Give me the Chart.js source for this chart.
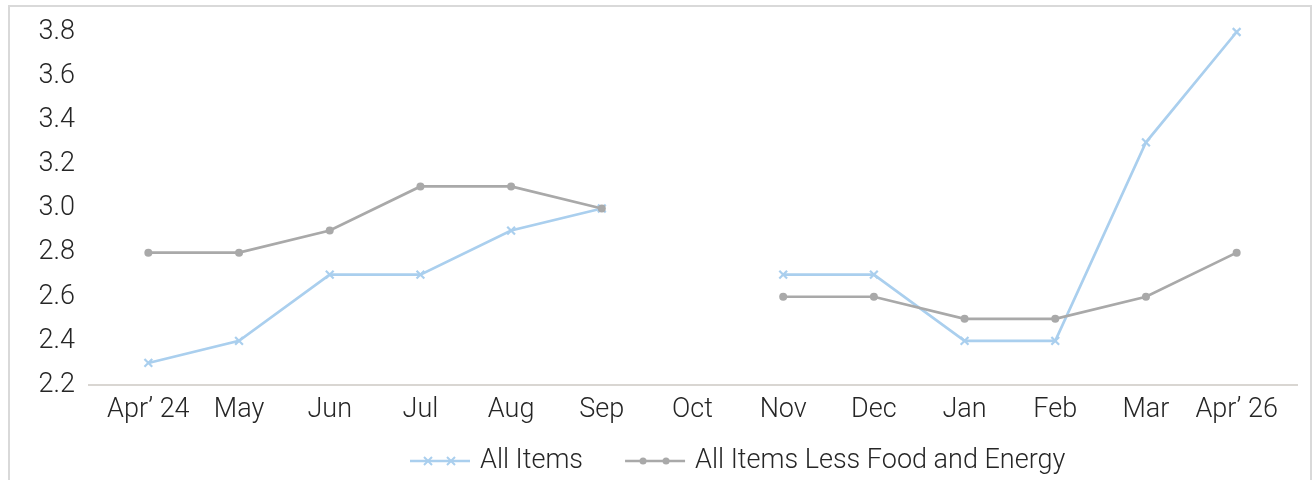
<!DOCTYPE html>
<html>
<head>
<meta charset="utf-8">
<script src="https://cdn.jsdelivr.net/npm/chart.js@4/dist/chart.umd.min.js"></script>
<style>
  html, body { margin: 0; padding: 0; background: #fff; }
  #wrap { position: absolute; left: 0; top: 0; width: 1314px; height: 480px; }
  #frame { position: absolute; left: 8px; top: 5px; width: 1300px; height: 480px;
           border: 2px solid #d9d9d9; border-bottom: none; pointer-events: none; }
</style>
</head>
<body>
<div id="wrap"><canvas id="myChart" width="1314" height="480"></canvas></div>
<div id="frame"></div>
<script>
const months = ['Apr\u2019 24', 'May', 'Jun', 'Jul', 'Aug', 'Sep', 'Oct', 'Nov', 'Dec', 'Jan', 'Feb', 'Mar', 'Apr\u2019 26'];
const allItems = [2.3, 2.4, 2.7, 2.7, 2.9, 3.0, null, 2.7, 2.7, 2.4, 2.4, 3.3, 3.8];
const coreItems = [2.8, 2.8, 2.9, 3.1, 3.1, 3.0, null, 2.6, 2.6, 2.5, 2.5, 2.6, 2.8];
const yTicks = [2.2, 2.4, 2.6, 2.8, 3.0, 3.2, 3.4, 3.6, 3.8];

const blue = '#aacfee';
const grey = '#a9a9a9';
const textColor = '#262626';
const fontFamily = 'Roboto, "Noto Sans", sans-serif';

// legend drawn by hand so the sample line can carry two markers like the original
const bottomLegend = {
  id: 'bottomLegend',
  afterDraw(chart) {
    const ctx = chart.ctx;
    const items = chart.data.datasets.map(ds => ({
      text: ds.label, color: ds.borderColor, style: ds.pointStyle
    }));
    ctx.save();
    ctx.font = '300 27px ' + fontFamily;
    ctx.textBaseline = 'middle';
    const y = 461;
    let x = 410;
    items.forEach(it => {
      ctx.strokeStyle = it.color;
      ctx.lineWidth = 2.5;
      ctx.beginPath();
      ctx.moveTo(x, y);
      ctx.lineTo(x + 60, y);
      ctx.stroke();
      [x + 18, x + 41].forEach(px => {
        if (it.style === 'crossRot') {
          ctx.lineWidth = 2;
          ctx.beginPath();
          ctx.moveTo(px - 4, y - 4); ctx.lineTo(px + 4, y + 4);
          ctx.moveTo(px + 4, y - 4); ctx.lineTo(px - 4, y + 4);
          ctx.stroke();
        } else {
          ctx.fillStyle = it.color;
          ctx.beginPath();
          ctx.arc(px, y, 3.5, 0, Math.PI * 2);
          ctx.fill();
        }
      });
      ctx.fillStyle = textColor;
      ctx.fillText(it.text, x + 70, y);
      x += 70 + ctx.measureText(it.text).width + 42;
    });
    ctx.restore();
  }
};

// category axis line runs a little past the plot area on both sides
const axisLine = {
  id: 'axisLine',
  beforeDatasetsDraw(chart) {
    const ctx = chart.ctx;
    const a = chart.chartArea;
    ctx.save();
    ctx.strokeStyle = '#ccc8c3';
    ctx.lineWidth = 1.5;
    ctx.beginPath();
    ctx.moveTo(a.left - 15, a.bottom);
    ctx.lineTo(a.right + 16, a.bottom);
    ctx.stroke();
    ctx.restore();
  }
};

const config = {
  type: 'line',
  data: {
    labels: months,
    datasets: [
      {
        label: 'All Items',
        data: allItems,
        borderColor: blue,
        backgroundColor: blue,
        borderWidth: 2.7,
        pointStyle: 'crossRot',
        pointRadius: 5.5,
        pointBorderWidth: 2.2,
        spanGaps: false,
        clip: false,
        order: 1
      },
      {
        label: 'All Items Less Food and Energy',
        data: coreItems,
        borderColor: grey,
        backgroundColor: grey,
        borderWidth: 2.7,
        pointStyle: 'circle',
        pointRadius: 4,
        pointBorderWidth: 0,
        spanGaps: false,
        clip: false,
        order: 0
      }
    ]
  },
  options: {
    responsive: false,
    animation: false,
    layout: { padding: { left: 0, right: 32, top: 32, bottom: 45 } },
    plugins: {
      legend: { display: false },
      tooltip: { enabled: false }
    },
    scales: {
      x: {
        offset: true,
        grid: { display: false, drawTicks: false },
        border: { display: false },
        ticks: {
          color: textColor,
          font: { family: fontFamily, size: 27, weight: '300' },
          padding: 9,
          maxRotation: 0,
          autoSkip: false
        },
        afterFit: s => { s.height = 50; }
      },
      y: {
        min: 2.2,
        max: 3.8,
        grid: { display: false, drawTicks: false },
        border: { display: false },
        afterBuildTicks: s => { s.ticks = yTicks.map(v => ({ value: v })); },
        ticks: {
          color: textColor,
          font: { family: fontFamily, size: 27, weight: '300' },
          padding: 28,
          callback: v => v.toFixed(1)
        },
        afterFit: s => { s.width = 103; s.paddingTop = 0; s.paddingBottom = 0; }
      }
    }
  },
  plugins: [axisLine, bottomLegend]
};

new Chart(document.getElementById('myChart'), config);
</script>
</body>
</html>
